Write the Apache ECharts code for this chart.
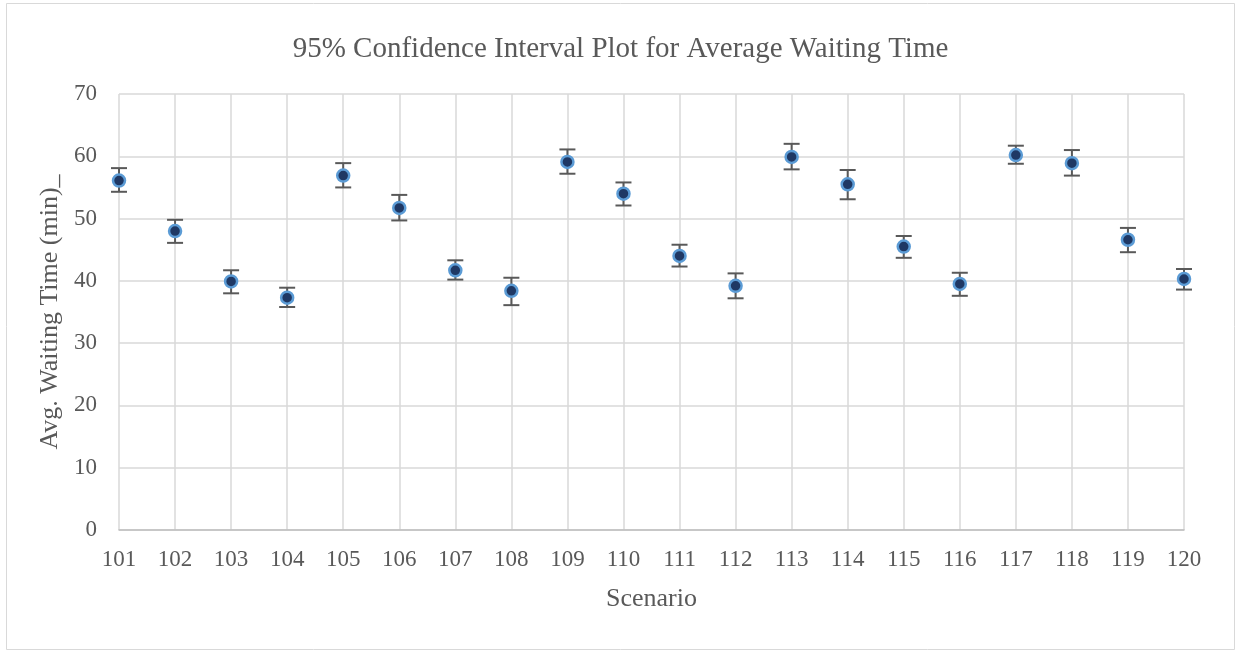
<!DOCTYPE html>
<html>
<head>
<meta charset="utf-8">
<script src="https://cdn.jsdelivr.net/npm/echarts@6/dist/echarts.min.js"></script>
<style>
  html, body { margin: 0; padding: 0; background: #fff; }
  #chart { width: 1241px; height: 652px; }
</style>
</head>
<body>
<div id="chart"></div>
<script>
// scenario ids and 95% CI values
const scenarios = [101, 102, 103, 104, 105, 106, 107, 108, 109, 110, 111, 112, 113, 114, 115, 116, 117, 118, 119, 120]
const means = [56.1, 48.0, 39.9, 37.3, 56.9, 51.7, 41.7, 38.4, 59.1, 54.0, 44.0, 39.2, 59.9, 55.5, 45.5, 39.5, 60.2, 58.9, 46.6, 40.3]
const upper = [58.1, 49.8, 41.7, 38.9, 58.9, 53.8, 43.3, 40.5, 61.1, 55.8, 45.8, 41.2, 62.0, 57.8, 47.2, 41.3, 61.7, 61.0, 48.5, 41.9]
const lower = [54.3, 46.1, 38.0, 35.8, 55.0, 49.7, 40.2, 36.1, 57.2, 52.1, 42.3, 37.2, 57.9, 53.1, 43.7, 37.6, 58.8, 56.9, 44.6, 38.6]

const font = 'Liberation Serif, Times New Roman, serif'
const textColor = '#595959'

const chart = echarts.init(document.getElementById('chart'))

const pointData = scenarios.map((s, i) => [s, means[i]])
const errData = scenarios.map((s, i) => [s, lower[i], upper[i]])

const option = {
  animation: false,
  backgroundColor: '#fff',
  title: {
    text: '95% Confidence Interval Plot for Average Waiting Time',
    left: 'center',
    top: 30,
    textStyle: { fontFamily: font, fontSize: 29, fontWeight: 'normal', color: textColor }
  },
  graphic: [
    {
      type: 'rect',
      shape: { x: 6.5, y: 3.5, width: 1228, height: 646 },
      style: { fill: 'none', stroke: '#D9D9D9', lineWidth: 1 },
      silent: true
    }
  ],
  grid: { left: 119, right: 57, top: 94, bottom: 122 },
  xAxis: {
    type: 'value',
    min: 101,
    max: 120,
    interval: 1,
    name: 'Scenario',
    nameLocation: 'middle',
    nameGap: 56,
    nameTextStyle: { fontFamily: font, fontSize: 26, color: textColor },
    axisLine: { show: true, lineStyle: { color: '#BFBFBF', width: 1.5 } },
    axisTick: { show: false },
    axisLabel: { fontFamily: font, fontSize: 23, color: textColor, margin: 18 },
    splitLine: { show: true, lineStyle: { color: '#D9D9D9', width: 1.5 } }
  },
  yAxis: {
    type: 'value',
    min: 0,
    max: 70,
    interval: 10,
    name: 'Avg. Waiting Time (min)_',
    nameLocation: 'middle',
    nameGap: 52,
    nameTextStyle: { fontFamily: font, fontSize: 26, color: textColor },
    axisLine: { show: false },
    axisTick: { show: false },
    axisLabel: { fontFamily: font, fontSize: 23, color: textColor, margin: 22 },
    splitLine: { show: true, lineStyle: { color: '#D9D9D9', width: 1.5 } }
  },
  series: [
    {
      type: 'custom',
      name: 'CI',
      data: errData,
      z: 3,
      renderItem: function(params, api) {
        const x = api.value(0)
        const lo = api.coord([x, api.value(1)])
        const hi = api.coord([x, api.value(2)])
        const half = 8
        const st = { stroke: '#595959', lineWidth: 2 }
        return {
          type: 'group',
          children: [
            { type: 'line', shape: { x1: lo[0], y1: lo[1], x2: hi[0], y2: hi[1] }, style: st },
            { type: 'line', shape: { x1: hi[0] - half, y1: hi[1], x2: hi[0] + half, y2: hi[1] }, style: st },
            { type: 'line', shape: { x1: lo[0] - half, y1: lo[1], x2: lo[0] + half, y2: lo[1] }, style: st }
          ]
        }
      }
    },
    {
      type: 'scatter',
      name: 'Mean',
      data: pointData,
      z: 5,
      symbol: 'circle',
      symbolSize: 12,
      itemStyle: { color: '#1F3864', borderColor: '#5B9BD5', borderWidth: 2.5, opacity: 1 }
    }
  ]
}

chart.setOption(option)
</script>
</body>
</html>
